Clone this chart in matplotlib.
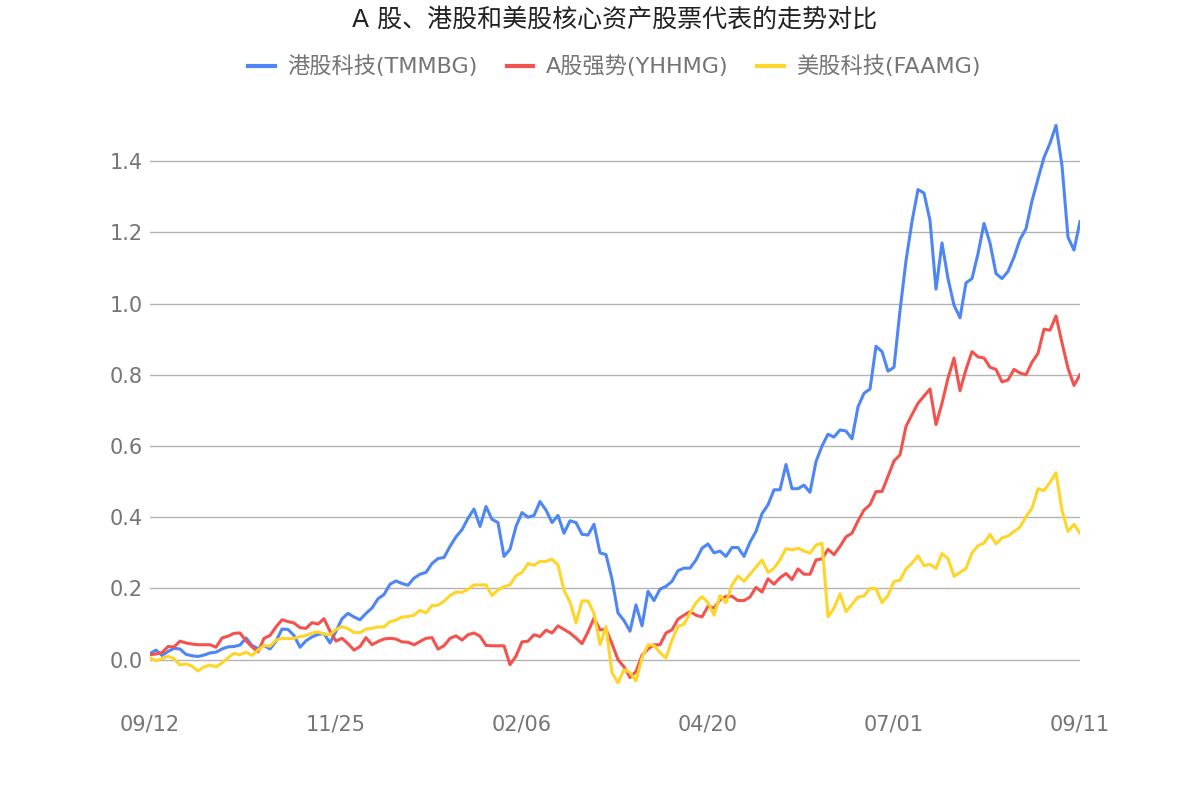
import matplotlib
matplotlib.use("Agg")
import matplotlib.pyplot as plt

plt.rcParams['font.family'] = ['DejaVu Sans', 'Noto Sans CJK SC']

# tick labels along the x axis (every 31st trading point)
date_labels = ['09/12', '11/25', '02/06', '04/20', '07/01', '09/11']

# 港股科技(TMMBG)
tmmbg = [
    0.017, 0.027, 0.012, 0.023, 0.032, 0.030, 0.015, 0.011, 0.009, 0.013,
    0.019, 0.021, 0.030, 0.036, 0.037, 0.041, 0.061, 0.040, 0.031, 0.040,
    0.030, 0.052, 0.086, 0.085, 0.068, 0.035, 0.053, 0.064, 0.071, 0.073,
    0.047, 0.080, 0.115, 0.130, 0.120, 0.112, 0.130, 0.145, 0.171, 0.183,
    0.212, 0.221, 0.214, 0.209, 0.229, 0.240, 0.245, 0.270, 0.284, 0.287,
    0.318, 0.345, 0.365, 0.397, 0.423, 0.374, 0.430, 0.394, 0.385, 0.290,
    0.310, 0.374, 0.413, 0.400, 0.405, 0.444, 0.420, 0.385, 0.405, 0.355,
    0.390, 0.385, 0.352, 0.350, 0.380, 0.300, 0.295, 0.226, 0.131, 0.110,
    0.080, 0.154, 0.095, 0.192, 0.166, 0.198, 0.206, 0.220, 0.250, 0.257,
    0.257, 0.280, 0.313, 0.325, 0.300, 0.305, 0.290, 0.315, 0.315, 0.290,
    0.330, 0.360, 0.410, 0.435, 0.477, 0.477, 0.548, 0.480, 0.480, 0.490,
    0.470, 0.556, 0.600, 0.633, 0.625, 0.645, 0.642, 0.620, 0.710, 0.748,
    0.760, 0.880, 0.865, 0.810, 0.821, 0.980, 1.120, 1.230, 1.320, 1.310,
    1.233, 1.040, 1.170, 1.070, 0.995, 0.960, 1.058, 1.070, 1.140, 1.225,
    1.170, 1.084, 1.070, 1.090, 1.130, 1.180, 1.210, 1.288, 1.350, 1.410,
    1.450, 1.500, 1.387, 1.186, 1.150, 1.230,
]

# A股强势(YHHMG)
yhhmg = [
    0.014, 0.016, 0.020, 0.037, 0.036, 0.052, 0.047, 0.044, 0.042, 0.042,
    0.042, 0.035, 0.061, 0.066, 0.074, 0.075, 0.053, 0.036, 0.022, 0.060,
    0.068, 0.092, 0.112, 0.107, 0.103, 0.090, 0.088, 0.104, 0.100, 0.115,
    0.080, 0.052, 0.060, 0.045, 0.027, 0.037, 0.062, 0.042, 0.051, 0.058,
    0.060, 0.058, 0.050, 0.049, 0.042, 0.051, 0.060, 0.062, 0.030, 0.039,
    0.060, 0.067, 0.055, 0.070, 0.075, 0.066, 0.040, 0.039, 0.039, 0.039,
    -0.014, 0.010, 0.050, 0.052, 0.070, 0.065, 0.083, 0.075, 0.095, 0.085,
    0.075, 0.061, 0.045, 0.078, 0.117, 0.084, 0.085, 0.045, 0.000, -0.020,
    -0.050, -0.033, 0.012, 0.030, 0.042, 0.042, 0.075, 0.084, 0.114, 0.125,
    0.135, 0.125, 0.120, 0.150, 0.145, 0.168, 0.178, 0.178, 0.166, 0.166,
    0.176, 0.203, 0.190, 0.227, 0.212, 0.230, 0.242, 0.225, 0.255, 0.240,
    0.240, 0.280, 0.283, 0.310, 0.295, 0.318, 0.345, 0.355, 0.390, 0.420,
    0.435, 0.472, 0.472, 0.515, 0.558, 0.575, 0.655, 0.688, 0.720, 0.740,
    0.760, 0.660, 0.720, 0.790, 0.847, 0.755, 0.815, 0.865, 0.850, 0.847,
    0.821, 0.815, 0.780, 0.785, 0.815, 0.805, 0.800, 0.835, 0.860, 0.928,
    0.925, 0.965, 0.890, 0.818, 0.770, 0.800,
]

# 美股科技(FAAMG)
faamg = [
    0.005, -0.003, 0.003, 0.010, 0.003, -0.015, -0.012, -0.018, -0.032, -0.020,
    -0.015, -0.020, -0.009, 0.005, 0.018, 0.014, 0.021, 0.012, 0.027, 0.040,
    0.038, 0.055, 0.060, 0.059, 0.060, 0.065, 0.068, 0.075, 0.078, 0.072,
    0.070, 0.085, 0.093, 0.087, 0.076, 0.076, 0.086, 0.088, 0.092, 0.092,
    0.107, 0.111, 0.120, 0.121, 0.125, 0.139, 0.131, 0.152, 0.153, 0.164,
    0.180, 0.190, 0.189, 0.198, 0.210, 0.210, 0.210, 0.180, 0.196, 0.205,
    0.210, 0.236, 0.245, 0.270, 0.265, 0.276, 0.276, 0.282, 0.266, 0.195,
    0.162, 0.103, 0.165, 0.165, 0.130, 0.042, 0.093, -0.037, -0.065, -0.028,
    -0.036, -0.060, 0.005, 0.042, 0.040, 0.020, 0.005, 0.055, 0.093, 0.100,
    0.131, 0.160, 0.177, 0.160, 0.125, 0.180, 0.160, 0.210, 0.235, 0.220,
    0.240, 0.260, 0.280, 0.245, 0.257, 0.280, 0.312, 0.308, 0.313, 0.305,
    0.299, 0.322, 0.327, 0.120, 0.145, 0.185, 0.135, 0.155, 0.176, 0.179,
    0.200, 0.200, 0.160, 0.180, 0.220, 0.223, 0.255, 0.271, 0.292, 0.264,
    0.268, 0.256, 0.298, 0.284, 0.234, 0.245, 0.256, 0.300, 0.320, 0.327,
    0.352, 0.325, 0.342, 0.347, 0.360, 0.372, 0.402, 0.425, 0.480, 0.475,
    0.498, 0.525, 0.419, 0.360, 0.380, 0.355,
]

series_names = ['港股科技(TMMBG)', 'A股强势(YHHMG)', '美股科技(FAAMG)']
colors = ['#4E86F5', '#F4524D', '#FFD52A']

fig = plt.figure(figsize=(12, 8), dpi=100)
ax = fig.add_axes([0.125, 0.1175, 0.775, 0.748])

x = list(range(len(tmmbg)))
for vals, name, c in zip([tmmbg, yhhmg, faamg], series_names, colors):
    ax.plot(x, vals, color=c, lw=2.2, label=name, solid_joinstyle='round')

step = (len(x) - 1) // (len(date_labels) - 1)
ax.set_xticks([i * step for i in range(len(date_labels))])
ax.set_xticklabels(date_labels)
ax.set_xlim(0, len(x) - 1)

ax.set_ylim(-0.13, 1.55)
ax.set_yticks([0.0, 0.2, 0.4, 0.6, 0.8, 1.0, 1.2, 1.4])
ax.set_yticklabels([f'{v:.1f}' for v in ax.get_yticks()])
ax.grid(axis='y', color='#b3b3b3', lw=1)
ax.set_axisbelow(True)
for s in ax.spines.values():
    s.set_visible(False)
ax.tick_params(length=0, labelsize=15, colors='#757575')
ax.tick_params(axis='x', pad=6)
ax.tick_params(axis='y', pad=5)

fig.text(0.512, 0.976, 'A 股、港股和美股核心资产股票代表的走势对比',
         ha='center', va='center', fontsize=18, color='#222222')

leg = fig.legend(loc='center', bbox_to_anchor=(0.512, 0.917), ncol=3,
                 frameon=False, fontsize=16, handlelength=1.2,
                 columnspacing=1.3, handletextpad=0.55)
for t in leg.get_texts():
    t.set_color('#757575')
for h in leg.get_lines():
    h.set_linewidth(3)

fig.savefig('out.png', dpi=100)
